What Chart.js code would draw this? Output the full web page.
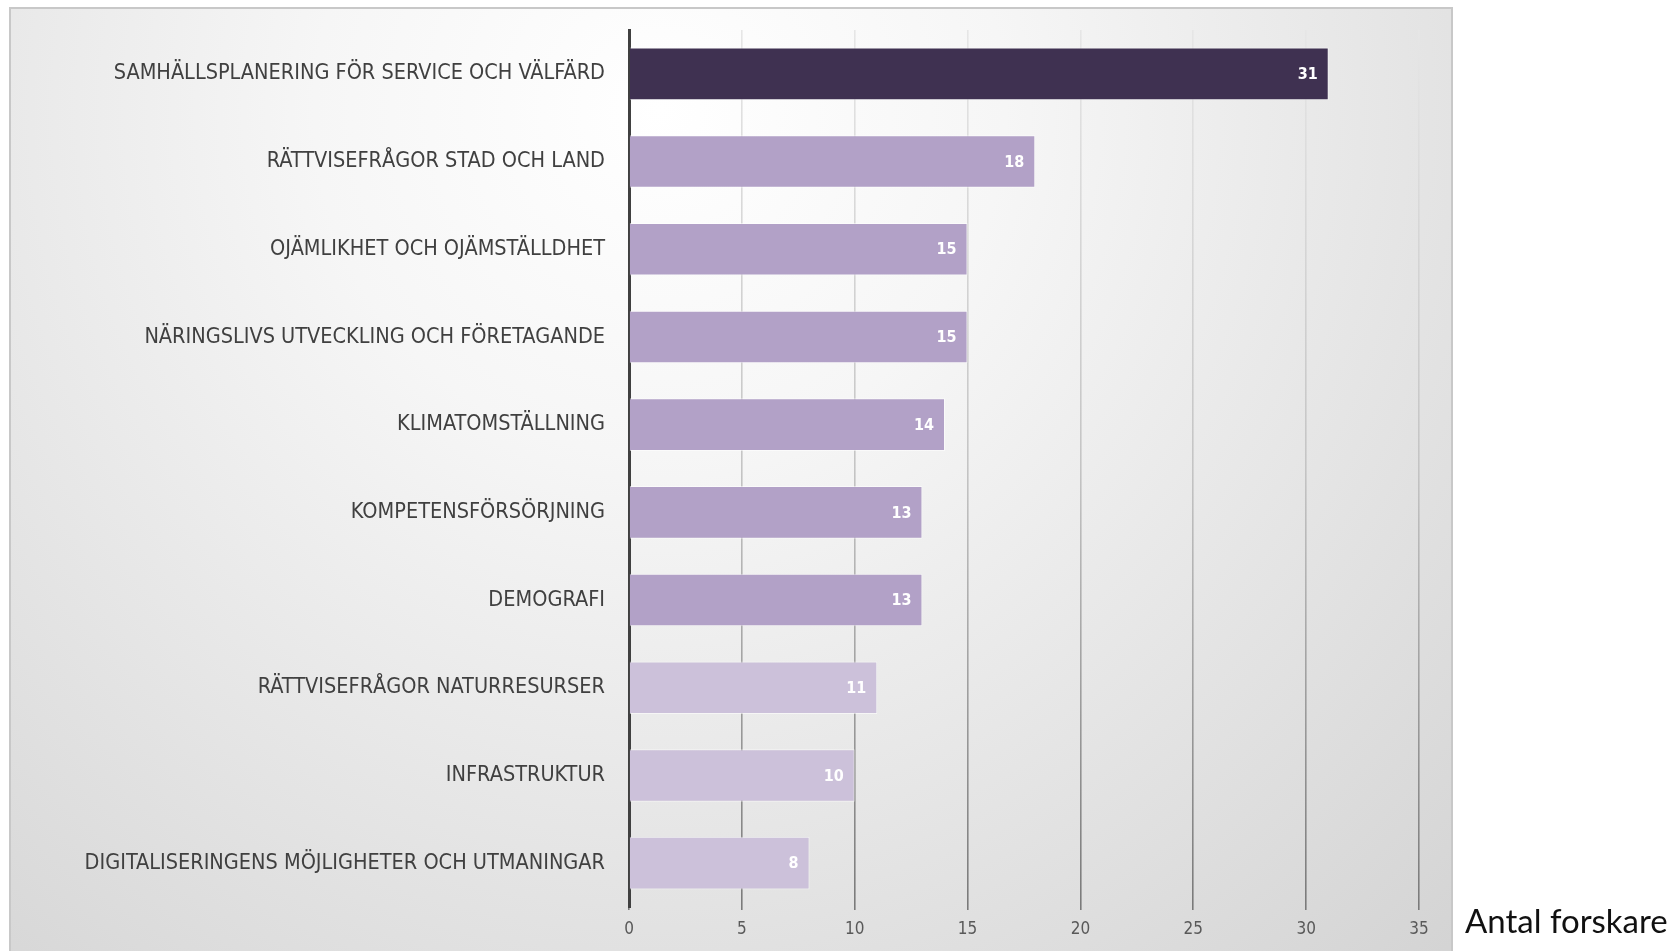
<!DOCTYPE html>
<html>
<head>
<meta charset="utf-8">
<script src="https://cdn.jsdelivr.net/npm/chart.js@4.4.1/dist/chart.umd.min.js"></script>
<style>
    html, body { margin: 0; padding: 0; background: #fff; }
    #wrap { position: relative; width: 1668px; height: 951px; }
    #axisTitle {
        position: absolute; left: 1465px; top: 900px;
        font-family: Lato, "Open Sans", sans-serif; font-size: 33px; color: #111;
        white-space: nowrap;
    }
</style>
</head>
<body>
<div id="wrap">
    <canvas id="researchChart" width="1668" height="951"></canvas>
    <div id="axisTitle">Antal forskare</div>
</div>
<script>
// Research areas and number of researchers per area
const categories = [
    'SAMHÄLLSPLANERING FÖR SERVICE OCH VÄLFÄRD',
    'RÄTTVISEFRÅGOR STAD OCH LAND',
    'OJÄMLIKHET OCH OJÄMSTÄLLDHET',
    'NÄRINGSLIVS UTVECKLING OCH FÖRETAGANDE',
    'KLIMATOMSTÄLLNING',
    'KOMPETENSFÖRSÖRJNING',
    'DEMOGRAFI',
    'RÄTTVISEFRÅGOR NATURRESURSER',
    'INFRASTRUKTUR',
    'DIGITALISERINGENS MÖJLIGHETER OCH UTMANINGAR'
];
const researchers = [31, 18, 15, 15, 14, 13, 13, 11, 10, 8];
const barColors = ['#3F3151', '#B2A1C7', '#B2A1C7', '#B2A1C7', '#B2A1C7', '#B2A1C7', '#B2A1C7', '#CCC1DA', '#CCC1DA', '#CCC1DA'];
const xTicks = [0, 5, 10, 15, 20, 25, 30, 35];

const labelFont = '"Liberation Sans Narrow", "DejaVu Sans Condensed", "Open Sans", sans-serif';

// Grey slide-like panel behind the chart
const panelBackground = {
    id: 'panelBackground',
    beforeDraw(chart) {
        const ctx = chart.ctx;
        ctx.save();
        ctx.fillStyle = '#ffffff';
        ctx.fillRect(0, 0, chart.width, chart.height);
        const grad = ctx.createRadialGradient(660, 110, 0, 660, 110, 1150);
        grad.addColorStop(0, '#ffffff');
        grad.addColorStop(0.3, '#f6f6f6');
        grad.addColorStop(1, '#d4d4d4');
        ctx.fillStyle = grad;
        ctx.fillRect(10, 8, 1442, 943);
        ctx.strokeStyle = '#c8c8c8';
        ctx.lineWidth = 2;
        ctx.beginPath();
        ctx.moveTo(10, 951);
        ctx.lineTo(10, 8);
        ctx.lineTo(1452, 8);
        ctx.lineTo(1452, 951);
        ctx.stroke();
        ctx.restore();
    }
};

// White value labels at the end of each bar
const barValueLabels = {
    id: 'barValueLabels',
    afterDatasetsDraw(chart) {
        const ctx = chart.ctx;
        const meta = chart.getDatasetMeta(0);
        ctx.save();
        ctx.fillStyle = '#ffffff';
        ctx.font = 'bold 16px ' + labelFont;
        ctx.textAlign = 'right';
        ctx.textBaseline = 'middle';
        meta.data.forEach((bar, i) => {
            ctx.fillText(String(chart.data.datasets[0].data[i]), bar.x - 11, bar.y + 1);
        });
        ctx.restore();
    }
};

function gridGradient(context) {
    const chart = context.chart;
    const area = chart.chartArea;
    if (!area) return '#bbbbbb';
    const g = chart.ctx.createLinearGradient(0, area.top, 0, area.bottom);
    g.addColorStop(0, '#e6e6e6');
    g.addColorStop(0.5, '#c4c4c4');
    g.addColorStop(1, '#7a7a7a');
    return g;
}

new Chart(document.getElementById('researchChart').getContext('2d'), {
    type: 'bar',
    data: {
        labels: categories,
        datasets: [{
            data: researchers,
            backgroundColor: barColors,
            borderColor: 'rgba(255, 255, 255, 0.55)',
            borderWidth: 1,
            categoryPercentage: 1,
            barPercentage: 0.6
        }]
    },
    options: {
        indexAxis: 'y',
        responsive: false,
        animation: false,
        layout: { padding: { top: 30, left: 0, right: 249, bottom: 0 } },
        plugins: {
            legend: { display: false },
            tooltip: { enabled: false }
        },
        scales: {
            x: {
                min: 0,
                max: 35,
                afterBuildTicks(scale) {
                    scale.ticks = xTicks.map(v => ({ value: v }));
                },
                afterFit(scale) { scale.height = 44; },
                grid: {
                    color: gridGradient,
                    lineWidth: 1.6,
                    drawTicks: true,
                    tickLength: 3
                },
                border: { display: false },
                ticks: {
                    padding: 9,
                    color: '#595959',
                    font: { family: labelFont, size: 17 }
                }
            },
            y: {
                afterFit(scale) {
                    scale.width = 629;
                    scale.paddingTop = 0;
                    scale.paddingBottom = 0;
                },
                grid: { display: false, drawTicks: false },
                border: { display: true, color: '#404040', width: 3 },
                ticks: {
                    padding: 24,
                    color: '#404040',
                    font: { family: labelFont, size: 21.5 }
                }
            }
        }
    },
    plugins: [panelBackground, barValueLabels]
});
</script>
</body>
</html>
